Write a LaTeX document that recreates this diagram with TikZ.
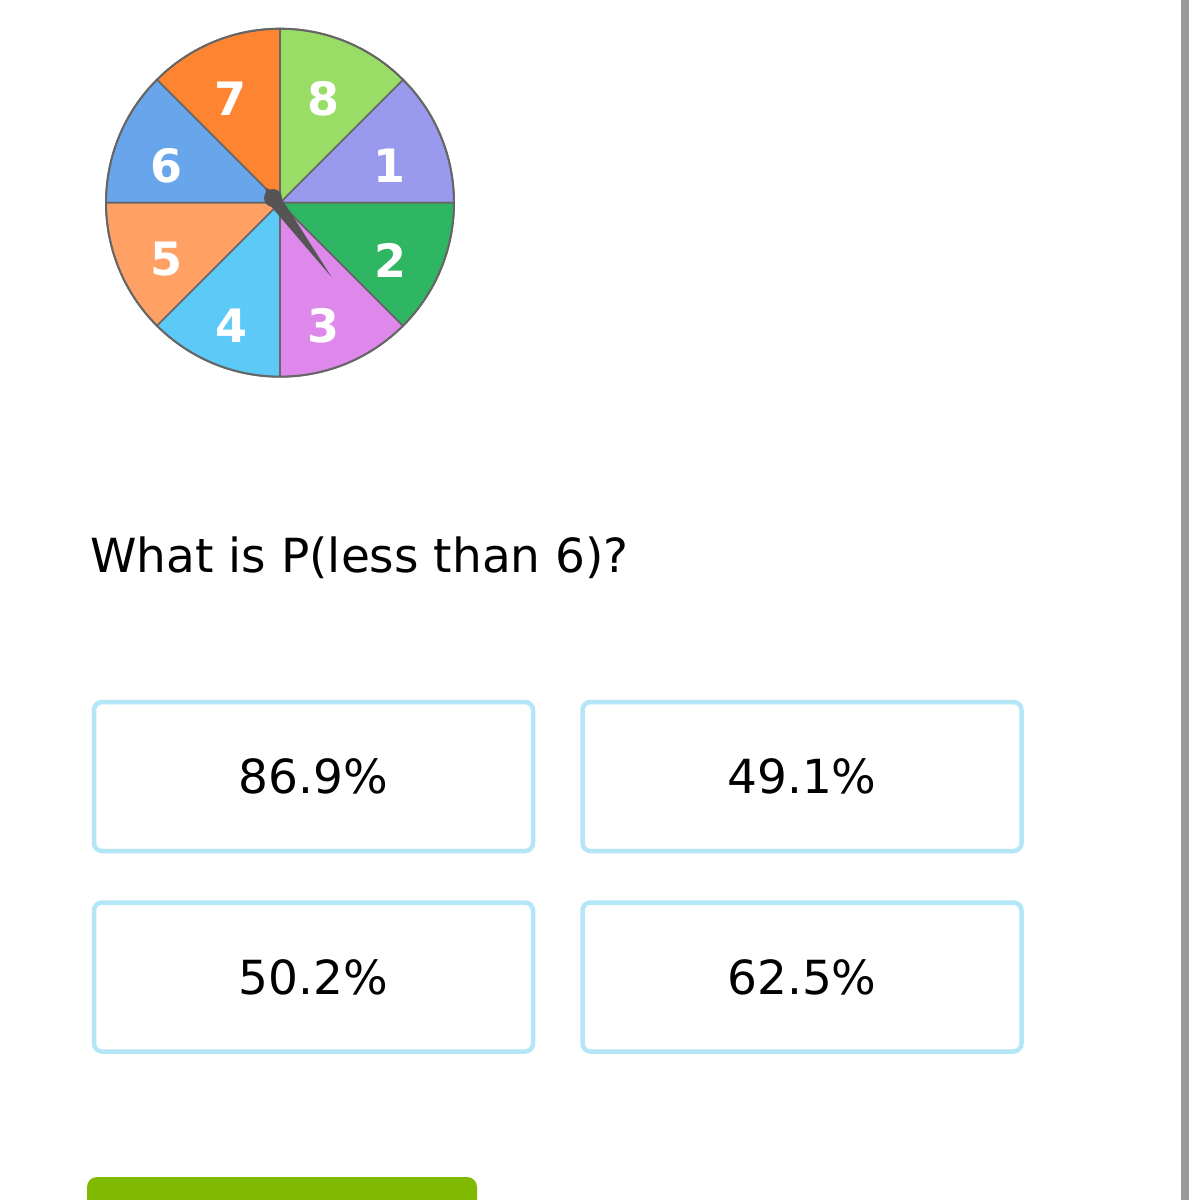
\documentclass[tikz,border=0pt]{standalone}
\usepackage{fontspec}
\setmainfont{DejaVu Sans}
\usepackage{tikz}
\usetikzlibrary{calc,positioning}
\definecolor{secone}{HTML}{9999EE}
\definecolor{sectwo}{HTML}{2EB663}
\definecolor{secthree}{HTML}{DD88EA}
\definecolor{secfour}{HTML}{5CC9F6}
\definecolor{secfive}{HTML}{FFA064}
\definecolor{secsix}{HTML}{68A5EA}
\definecolor{secseven}{HTML}{FD8532}
\definecolor{seceight}{HTML}{99DD66}
\definecolor{rimgrey}{HTML}{666666}
\definecolor{needlegrey}{HTML}{555555}
\definecolor{boxblue}{HTML}{B3E6F7}
\definecolor{btngreen}{HTML}{7FBA00}
\definecolor{bargrey}{HTML}{999999}

\begin{document}
\begin{tikzpicture}[x=0.5pt,y=-0.5pt,node distance=23.5pt and 22.5pt]

\tikzset{choicebox/.style={draw=boxblue,line width=2.25pt,rounded corners=4pt,fill=white,minimum width=219.5pt,minimum height=74.5pt,inner sep=0pt,font=\fontsize{23.5}{28}\selectfont},
digit/.style={text=white,inner sep=0pt,font=\fontsize{23}{28}\selectfont\bfseries},
needle/.style={fill=needlegrey}}

% Page
\fill[white,use as bounding box] (0,0) rectangle (1199,1200);
\clip (0,0) rectangle (1199,1200);
\fill[bargrey] (1181,0) rectangle (1189,1200);

% Spinner
\coordinate (hub) at (280,202.7);
\foreach \a/\c in {0/secone,45/seceight,90/secseven,135/secsix,180/secfive,225/secfour,270/secthree,315/sectwo}
  \filldraw[fill=\c,draw=rimgrey,line width=0.8pt] (hub) -- ++(\a:87pt) arc[start angle=\a,delta angle=45,radius=87pt] -- cycle;
\draw[rimgrey,line width=1pt] (hub) circle[radius=87pt];

\node[digit] (n1) at (389.5,165.5) {1};
\node[digit] (n2) at (390.5,260) {2};
\node[digit] (n3) at (323.5,325.5) {3};
\node[digit] (n4) at (231.5,325.5) {4};
\node[digit] (n5) at (166.5,259) {5};
\node[digit] (n6) at (166.5,165.5) {6};
\node[digit] (n7) at (230.5,99) {7};
\node[digit] (n8) at (323.5,99) {8};

% Pointer
\coordinate (pivot) at (273,198);
\coordinate (tip) at (331.5,277);
\fill[needle] ($(pivot)+(126.5:6.5pt)$) -- ($(pivot)+(36.5:3.5pt)$) -- (tip) -- ($(pivot)+(216.5:3.5pt)$) -- cycle;
\fill[needle] (pivot) circle[radius=4.5pt];

% Question
\node[anchor=base west,inner sep=0pt,font=\fontsize{23.5}{28}\selectfont] (question) at (90,572) {What is P(less than 6)?};

% Answer boxes
\node[choicebox] (b1) at (313.5,776.5) {86.9\%};
\node[choicebox,right=of b1] (b2) {49.1\%};
\node[choicebox,below=of b1] (b3) {50.2\%};
\node[choicebox,below=of b2] (b4) {62.5\%};

% Submit button (cut off)
\fill[btngreen,rounded corners=5pt] (87,1177) rectangle (477,1220);

\end{tikzpicture}
\end{document}
